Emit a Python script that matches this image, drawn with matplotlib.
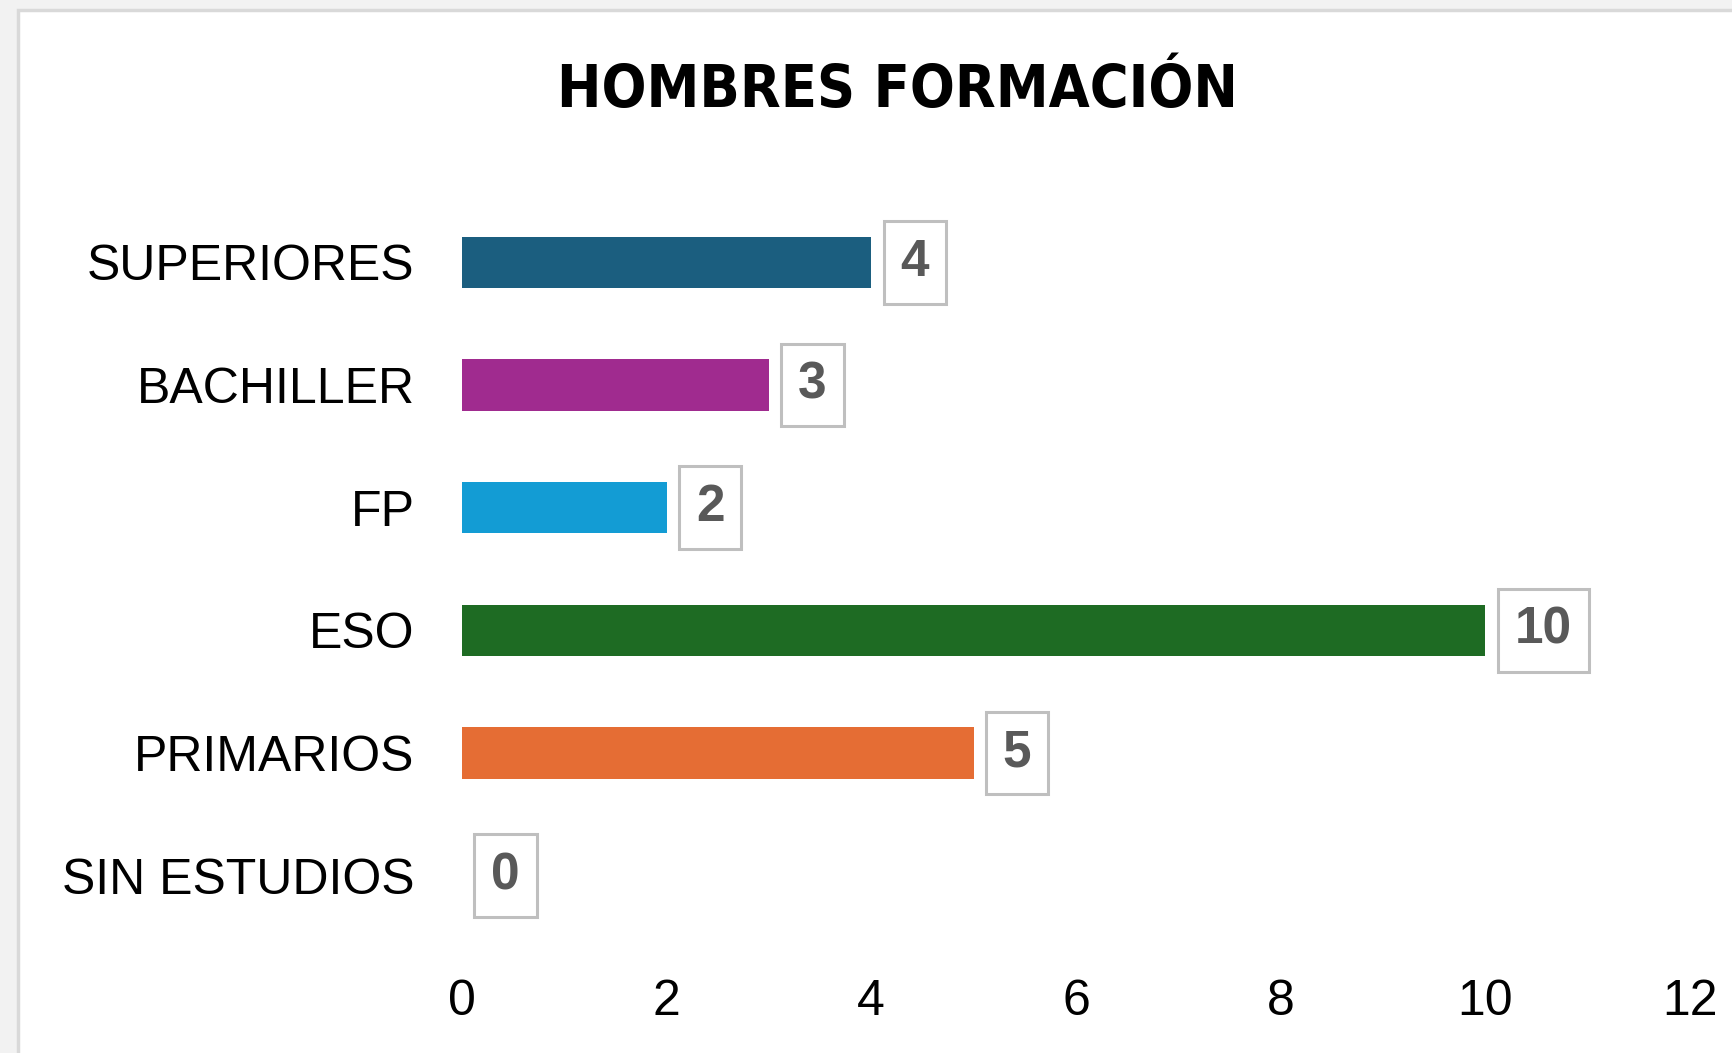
import matplotlib
matplotlib.use("Agg")
import matplotlib.pyplot as plt
from matplotlib.patches import Rectangle

# data (top to bottom)
categories = ["SUPERIORES", "BACHILLER", "FP", "ESO", "PRIMARIOS", "SIN ESTUDIOS"]
values = [4, 3, 2, 10, 5, 0]
colors = ["#1B5E7F", "#A02B8F", "#139CD4", "#1E6B23", "#E56D34", "#7F7F7F"]
xticks = [0, 2, 4, 6, 8, 10, 12]
title = "HOMBRES FORMACIÓN"

plt.rcParams['font.family'] = ['Liberation Sans', 'DejaVu Sans']

fig = plt.figure(figsize=(17.32, 10.53), dpi=100)
fig.patch.set_facecolor("#f2f2f2")

# white chart area with its light grey frame
frame = Rectangle((18 / 1732, -0.05), 1.1, 1 - 10 / 1053 + 0.05,
                  transform=fig.transFigure, facecolor="white",
                  edgecolor="#d9d9d9", linewidth=2.5, zorder=-5)
fig.patches.append(frame)

ax = fig.add_axes([0.2667, 0.1102, 0.7091, 0.6989])
ax.set_facecolor("none")
ax.set_zorder(2)

ypos = list(range(len(categories)))[::-1]
ax.barh(ypos, values, height=0.42, color=colors, zorder=2)

for y, v in zip(ypos, values):
    ax.annotate(str(v), xy=(v, y), xytext=(21, 0), textcoords="offset points",
                ha="left", va="center", fontsize=37, fontweight="bold",
                color="#595959",
                bbox=dict(boxstyle="square,pad=0.33", facecolor="white",
                          edgecolor="#bfbfbf", linewidth=2.2))

ax.set_xlim(0, 12)
ax.set_ylim(-0.5, len(categories) - 0.5)
ax.set_xticks(xticks)
ax.set_xticklabels([str(t) for t in xticks])
ax.set_yticks(ypos)
ax.set_yticklabels(categories)
ax.tick_params(axis="x", length=0, pad=30, labelsize=36)
ax.tick_params(axis="y", length=0, pad=34, labelsize=36)
for s in ax.spines.values():
    s.set_visible(False)

t = fig.text(897 / 1732, 1 - 90 / 1053, title, ha="center", va="center",
             fontsize=47, fontweight="bold", color="black",
             family="DejaVu Sans", fontstretch="condensed")

# squeeze the title to the width it has in the original (about 680 px)
fig.canvas.draw()
w = t.get_window_extent().width
if w > 700:
    t.set_fontsize(47 * 680 / w)

fig.savefig("out.png", dpi=100, facecolor=fig.get_facecolor())
